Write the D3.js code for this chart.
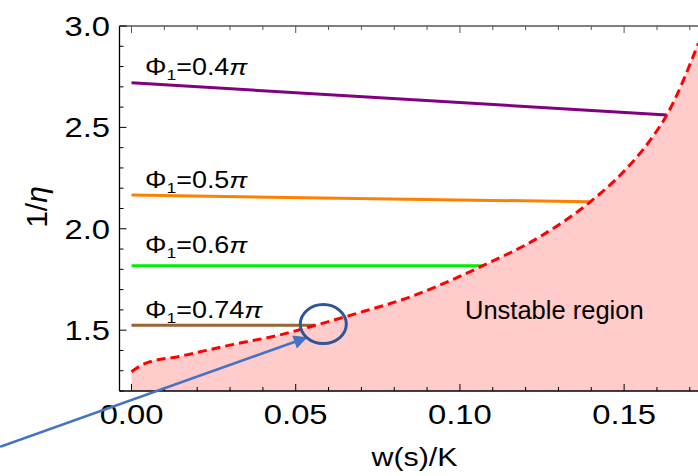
<!DOCTYPE html>
<html>
<head>
<meta charset="utf-8">
<script src="https://cdn.jsdelivr.net/npm/d3@7"></script>
<style>
  body { margin: 0; background: #fff; }
  svg { display: block; font-family: "Liberation Sans", Arial, Helvetica, sans-serif; }
</style>
</head>
<body>
<script>
// boundary of the unstable region (red dashed curve)
var boundaryX = [0, 0.004, 0.015, 0.031, 0.045, 0.056, 0.0676, 0.085, 0.107, 0.1244, 0.1397, 0.1498, 0.158, 0.163, 0.1726];
var boundaryY = [1.295, 1.335, 1.372, 1.43, 1.476, 1.524, 1.578, 1.665, 1.818, 1.961, 2.133, 2.281, 2.438, 2.561, 2.914];

// constant-phase lines
var phiNames  = ["0.4", "0.5", "0.6", "0.74"];
var phiColors = ["#800080", "#ff8000", "#00ee00", "#996633"];
var phiStartY = [2.72, 2.166, 1.818, 1.524];
var phiEndX   = [0.163, 0.1397, 0.1072, 0.0559];
var phiEndY   = [2.561, 2.133, 1.818, 1.524];
var phiLabelY = [2.758, 2.2, 1.882, 1.558];

var xMajor = [0, 0.05, 0.1, 0.15];
var yMajor = [1.5, 2.0, 2.5, 3.0];

// annotation (arrow + ellipse) in data units
var arrowFrom = [-0.040, 0.925];
var arrowTo   = [0.0528, 1.46];
var ringAt    = [0.0584, 1.530];

var W = 698, H = 476;
var sx = 1.17; // the original figure text is stretched sideways

var x = d3.scaleLinear().domain([-0.00366, 0.176]).range([119.5, 709.5]);
var y = d3.scaleLinear().domain([1.2, 3.0]).range([391, 26]);

var svg = d3.select("body").append("svg")
    .attr("width", W)
    .attr("height", H);

var defs = svg.append("defs");
defs.append("clipPath").attr("id", "clip")
  .append("rect")
    .attr("x", x.range()[0]).attr("y", y.range()[1])
    .attr("width", x.range()[1] - x.range()[0])
    .attr("height", y.range()[0] - y.range()[1]);

defs.append("marker")
    .attr("id", "head")
    .attr("viewBox", "0 0 10 10")
    .attr("refX", 8).attr("refY", 5)
    .attr("markerWidth", 6.5).attr("markerHeight", 5.5)
    .attr("markerUnits", "strokeWidth")
    .attr("orient", "auto")
  .append("path")
    .attr("d", "M0,0 L10,5 L0,10 z")
    .attr("fill", "#4472c4");

var plot = svg.append("g").attr("clip-path", "url(#clip)");

var pts = boundaryX.map(function(v, i) { return [v, boundaryY[i]]; });

// pink fill under the boundary
plot.append("path")
    .datum(pts)
    .attr("fill", "#ffcbcb")
    .attr("d", d3.area()
        .x(function(d) { return x(d[0]); })
        .y0(y(1.2))
        .y1(function(d) { return y(d[1]); })
        .curve(d3.curveMonotoneX));

// phase lines
phiNames.forEach(function(n, i) {
    plot.append("line")
        .attr("x1", x(0)).attr("y1", y(phiStartY[i]))
        .attr("x2", x(phiEndX[i])).attr("y2", y(phiEndY[i]))
        .attr("stroke", phiColors[i])
        .attr("stroke-width", 3);
});

// dashed boundary
plot.append("path")
    .datum(pts)
    .attr("fill", "none")
    .attr("stroke", "#ff0000")
    .attr("stroke-width", 3)
    .attr("stroke-dasharray", "9,5")
    .attr("d", d3.line()
        .x(function(d) { return x(d[0]); })
        .y(function(d) { return y(d[1]); })
        .curve(d3.curveMonotoneX));

// frame
var fr = svg.append("g").attr("stroke", "#000").attr("stroke-width", 1.3);
fr.append("line").attr("x1", x.range()[0]).attr("x2", x.range()[0])
    .attr("y1", y.range()[1]).attr("y2", y.range()[0]);
fr.append("line").attr("x1", x.range()[0]).attr("x2", x.range()[1])
    .attr("y1", y.range()[0]).attr("y2", y.range()[0]);
fr.append("line").attr("x1", x.range()[0]).attr("x2", x.range()[1])
    .attr("y1", y.range()[1]).attr("y2", y.range()[1])
    .attr("stroke", "#555");

// ticks
var xMinor = d3.range(0, 0.1751, 0.01);
var yMinor = d3.range(1.2, 3.001, 0.1);
function isMajor(v, list) { return list.some(function(m) { return Math.abs(m - v) < 1e-6; }); }

var tk = svg.append("g").attr("stroke", "#000").attr("stroke-width", 1);
xMinor.forEach(function(v) {
    var len = isMajor(v, xMajor) ? 7 : 4;
    tk.append("line").attr("x1", x(v)).attr("x2", x(v))
        .attr("y1", y.range()[0]).attr("y2", y.range()[0] - len);
    tk.append("line").attr("x1", x(v)).attr("x2", x(v))
        .attr("y1", y.range()[1]).attr("y2", y.range()[1] + len)
        .attr("stroke", "#555");
});
yMinor.forEach(function(v) {
    var len = isMajor(v, yMajor) ? 7 : 4;
    tk.append("line").attr("x1", x.range()[0]).attr("x2", x.range()[0] + len)
        .attr("y1", y(v)).attr("y2", y(v));
});

function stretchedText(px, py, size, anchor, str) {
    return svg.append("text")
        .attr("transform", "translate(" + px + "," + py + ") scale(" + sx + ",1)")
        .attr("font-size", size)
        .attr("text-anchor", anchor)
        .text(str);
}

xMajor.forEach(function(v) {
    stretchedText(x(v), 424, 28, "middle", d3.format(".2f")(v));
});
yMajor.forEach(function(v) {
    stretchedText(110, y(v) + 10, 28, "end", d3.format(".1f")(v));
});

// axis labels
stretchedText(414.5, 466, 26, "middle", "w(s)/K");
var yl = svg.append("text")
    .attr("transform", "translate(47,207) rotate(-90)")
    .attr("font-size", 30)
    .attr("text-anchor", "middle");
yl.append("tspan").text("1/");
yl.append("tspan").attr("font-style", "italic").text("η");

// phase labels
phiNames.forEach(function(n, i) {
    var t = svg.append("text")
        .attr("transform", "translate(145," + y(phiLabelY[i]) + ") scale(" + sx + ",1)")
        .attr("font-size", 23);
    t.append("tspan").text("Φ");
    t.append("tspan").attr("font-size", 15).attr("dy", 5).text("1");
    t.append("tspan").attr("dy", -5).text("=" + n);
    t.append("tspan").attr("font-style", "italic").text("π");
});

svg.append("text")
    .attr("x", 465).attr("y", 319)
    .attr("font-size", 25.5)
    .text("Unstable region");

// annotation
svg.append("line")
    .attr("x1", x(arrowFrom[0])).attr("y1", y(arrowFrom[1]))
    .attr("x2", x(arrowTo[0])).attr("y2", y(arrowTo[1]))
    .attr("stroke", "#4472c4")
    .attr("stroke-width", 2.5)
    .attr("marker-end", "url(#head)");

svg.append("ellipse")
    .attr("cx", x(ringAt[0])).attr("cy", y(ringAt[1]))
    .attr("rx", 23).attr("ry", 19.5)
    .attr("fill", "none")
    .attr("stroke", "#2f5597")
    .attr("stroke-width", 3);
</script>
</body>
</html>
